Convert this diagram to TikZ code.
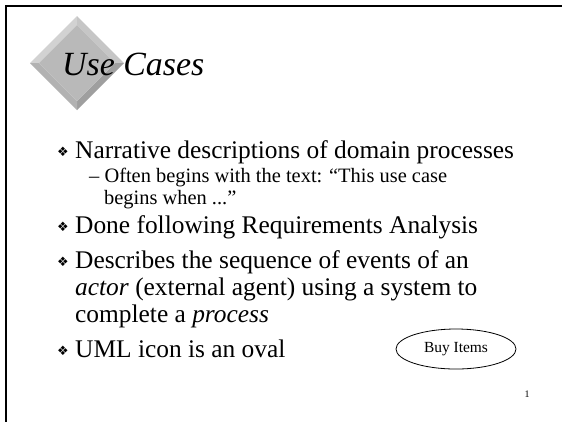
\documentclass[tikz,border=0pt]{standalone}
\usepackage{fontspec}
\setmainfont{Liberation Serif}
\newfontfamily\symfont{DejaVu Sans}
\usetikzlibrary{shapes.geometric}

\tikzset{
  bodytext/.style={anchor=base west, inner sep=0pt, font=\fontsize{25.5}{30}\selectfont},
  subtext/.style={anchor=base west, inner sep=0pt, font=\fontsize{20.5}{24}\selectfont},
  bulletmark/.style={anchor=base west, inner sep=0pt, font=\symfont\fontsize{13}{15}\selectfont},
  frameline/.style={line width=2.4bp, black},
  usecaseoval/.style={ellipse, draw, line width=0.8bp, minimum width=120bp, minimum height=40bp,
    inner sep=0pt, font=\fontsize{15.5}{18}\selectfont}
}

\begin{document}
\begin{tikzpicture}[x=1bp, y=-1bp]
  % page area
  \useasboundingbox (0,0) rectangle (562,422);
  \fill[white] (0,0) rectangle (562,422);

  % slide frame (top and left edges)
  \draw[frameline] (562,6) -- (6,6) -- (6,422);

  % bevelled diamond behind the title
  \fill[gray!35] (30,63) -- (77,16) -- (77,25) -- (39,63) -- cycle;
  \fill[gray!45] (77,16) -- (124,63) -- (115,63) -- (77,25) -- cycle;
  \fill[gray!75] (124,63) -- (77,110) -- (77,101) -- (115,63) -- cycle;
  \fill[gray!60] (77,110) -- (30,63) -- (39,63) -- (77,101) -- cycle;
  \fill[gray!55] (39,63) -- (77,25) -- (115,63) -- (77,101) -- cycle;

  % title
  \node[anchor=base west, inner sep=0pt, font=\itshape\fontsize{34}{40}\selectfont] (title) at (62,75) {Use Cases};

  % bullet list
  \node[bulletmark] (b1) at (57,156) {❖};
  \node[bodytext] (t1) at (75,158) {Narrative descriptions of domain processes};
  \node[subtext] (s1) at (89,182) {– Often begins with the text: “This use case};
  \node[subtext] (s2) at (104,204) {begins when ...”};

  \node[bulletmark] (b2) at (57,231) {❖};
  \node[bodytext] (t2) at (75,233) {Done following Requirements Analysis};

  \node[bulletmark] (b3) at (57,266) {❖};
  \node[bodytext] (t3) at (75,268) {Describes the sequence of events of an};
  \node[bodytext] (t4) at (75,295) {\textit{actor} (external agent) using a system to};
  \node[bodytext] (t5) at (75,322) {complete a \textit{process}};

  \node[bulletmark] (b4) at (57,355) {❖};
  \node[bodytext] (t6) at (75,357) {UML icon is an oval};

  % use case icon
  \node[usecaseoval] (usecase) at (456,349) {Buy Items};

  % page number
  \node[anchor=base, inner sep=0pt, font=\fontsize{10}{12}\selectfont] (pagenum) at (527,397) {1};
\end{tikzpicture}
\end{document}
